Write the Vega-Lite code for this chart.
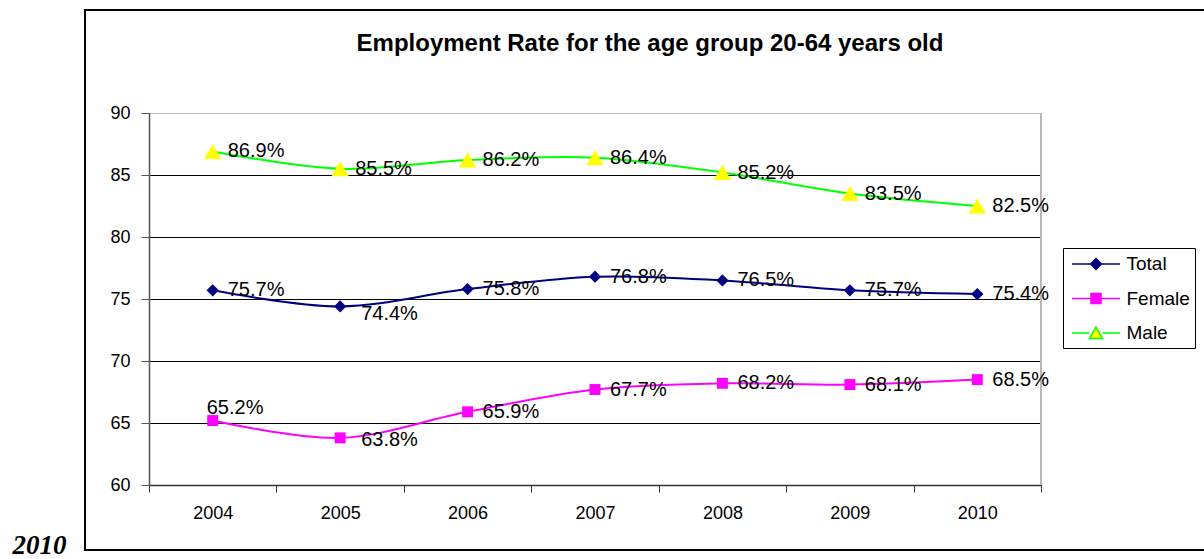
{
  "$schema": "https://vega.github.io/schema/vega-lite/v6.json",
  "width": 1130,
  "height": 540,
  "autosize": {"type": "none"},
  "padding": {"left": 85, "top": 10, "right": -11, "bottom": 9},
  "background": "white",
  "config": {
    "view": {"stroke": "black", "strokeWidth": 2, "fill": "white"},
    "font": "Liberation Sans",
    "axis": {"labelFont": "Liberation Sans", "labelColor": "black"},
    "legend": {
      "orient": "none",
      "legendX": 978,
      "legendY": 238,
      "strokeColor": "black",
      "fillColor": "white",
      "padding": 5,
      "rowPadding": 13.5,
      "symbolSize": 400,
      "symbolStrokeWidth": 1.5,
      "symbolOpacity": 1,
      "labelFont": "Liberation Sans",
      "labelFontSize": 19,
      "labelOffset": 36.5,
      "labelColor": "black"
    }
  },
  "title": {
    "text": "Employment Rate for the age group 20-64 years old",
    "font": "Liberation Sans",
    "fontSize": 24,
    "fontWeight": "bold",
    "color": "black",
    "anchor": "middle",
    "frame": "group",
    "baseline": "alphabetic",
    "offset": -65
  },
  "data": {
    "values": [
      {"year": "2004", "series": "Total", "value": 75.7},
      {"year": "2005", "series": "Total", "value": 74.4},
      {"year": "2006", "series": "Total", "value": 75.8},
      {"year": "2007", "series": "Total", "value": 76.8},
      {"year": "2008", "series": "Total", "value": 76.5},
      {"year": "2009", "series": "Total", "value": 75.7},
      {"year": "2010", "series": "Total", "value": 75.4},
      {"year": "2004", "series": "Female", "value": 65.2},
      {"year": "2005", "series": "Female", "value": 63.8},
      {"year": "2006", "series": "Female", "value": 65.9},
      {"year": "2007", "series": "Female", "value": 67.7},
      {"year": "2008", "series": "Female", "value": 68.2},
      {"year": "2009", "series": "Female", "value": 68.1},
      {"year": "2010", "series": "Female", "value": 68.5},
      {"year": "2004", "series": "Male", "value": 86.9},
      {"year": "2005", "series": "Male", "value": 85.5},
      {"year": "2006", "series": "Male", "value": 86.2},
      {"year": "2007", "series": "Male", "value": 86.4},
      {"year": "2008", "series": "Male", "value": 85.2},
      {"year": "2009", "series": "Male", "value": 83.5},
      {"year": "2010", "series": "Male", "value": 82.5}
    ]
  },
  "encoding": {
    "x": {
      "field": "year",
      "type": "ordinal",
      "scale": {"type": "band", "range": [64, 956], "paddingInner": 0, "paddingOuter": 0},
      "axis": {
        "title": "2010",
        "titleX": -73,
        "titleY": 68,
        "titleAnchor": "start",
        "titleAlign": "left",
        "titleBaseline": "alphabetic",
        "titleFont": "Liberation Serif",
        "titleFontSize": 27,
        "titleFontStyle": "italic",
        "titleFontWeight": "bold",
        "titleColor": "black",
        "offset": -65,
        "labelAngle": 0,
        "labelFontSize": 18,
        "labelPadding": 12,
        "tickBand": "extent",
        "tickSize": 7,
        "tickColor": "#333333",
        "domainColor": "#333333",
        "domainWidth": 1.5,
        "grid": false
      }
    },
    "y": {
      "field": "value",
      "type": "quantitative",
      "scale": {"domain": [60, 90], "range": [475, 103], "zero": false, "nice": false},
      "axis": {
        "title": null,
        "values": [60, 65, 70, 75, 80, 85, 90],
        "offset": -64,
        "grid": true,
        "gridColor": {"condition": {"test": "datum.value === 90", "value": "#b8b8b8"}, "value": "#000000"},
        "gridWidth": 1,
        "domainColor": "#555555",
        "domainWidth": 1.5,
        "tickColor": "#555555",
        "tickSize": 8,
        "labelPadding": 11,
        "labelFontSize": 18
      }
    }
  },
  "layer": [
    {
      "mark": {"type": "rule", "color": "#b8b8b8", "strokeWidth": 1.5},
      "encoding": {
        "x": {"datum": "2010", "type": "ordinal", "bandPosition": 1},
        "y": {"datum": 60, "type": "quantitative"},
        "y2": {"datum": 90}
      }
    },
    {
      "mark": {"type": "line", "interpolate": "catmull-rom", "strokeWidth": 2},
      "encoding": {
        "stroke": {
          "field": "series",
          "type": "nominal",
          "scale": {"domain": ["Total", "Female", "Male"], "range": ["#000080", "#FF00FF", "#00FF00"]},
          "legend": {"title": null}
        }
      }
    },
    {
      "transform": [{"filter": "datum.series === 'Total'"}],
      "mark": {"type": "point", "shape": "diamond", "size": 150, "filled": true, "opacity": 1, "strokeWidth": 0},
      "encoding": {
        "fill": {
          "field": "series",
          "type": "nominal",
          "scale": {"domain": ["Total", "Female", "Male"], "range": ["#000080", "#FF00FF", "#FFFF00"]},
          "legend": {"title": null}
        }
      }
    },
    {
      "transform": [{"filter": "datum.series === 'Female'"}],
      "mark": {"type": "point", "shape": "square", "size": 120, "filled": true, "opacity": 1, "strokeWidth": 0},
      "encoding": {
        "fill": {
          "field": "series",
          "type": "nominal",
          "scale": {"domain": ["Total", "Female", "Male"], "range": ["#000080", "#FF00FF", "#FFFF00"]},
          "legend": {"title": null}
        }
      }
    },
    {
      "transform": [{"filter": "datum.series === 'Male'"}],
      "mark": {"type": "point", "shape": "triangle-up", "size": 300, "filled": true, "opacity": 1, "strokeWidth": 0},
      "encoding": {
        "fill": {
          "field": "series",
          "type": "nominal",
          "scale": {"domain": ["Total", "Female", "Male"], "range": ["#000080", "#FF00FF", "#FFFF00"]},
          "legend": {"title": null}
        }
      }
    },
    {
      "mark": {"type": "point", "opacity": 0, "size": 400},
      "encoding": {
        "shape": {
          "field": "series",
          "type": "nominal",
          "scale": {
            "domain": ["Total", "Female", "Male"],
            "range": [
              "M-0.7,0H4.1M1.7,-0.55L2.25,0L1.7,0.55L1.15,0Z",
              "M-0.7,0H4.1M1.2,-0.5H2.2V0.5H1.2Z",
              "M-0.7,0H1.05M2.35,0H4.1M1.7,-0.6L2.35,0.55H1.05Z"
            ]
          },
          "legend": {"title": null}
        }
      }
    },
    {
      "transform": [{"filter": "!((datum.series === 'Female' && datum.year === '2004') || (datum.year === '2005' && datum.series !== 'Male'))"}],
      "mark": {"type": "text", "align": "left", "baseline": "middle", "dx": 15, "fontSize": 20, "font": "Liberation Sans", "color": "black", "text": {"expr": "format(datum.value, '.1f') + '%'"}}
    },
    {
      "transform": [{"filter": "datum.series === 'Female' && datum.year === '2004'"}],
      "mark": {"type": "text", "align": "left", "baseline": "middle", "dx": -6, "dy": -13, "fontSize": 20, "font": "Liberation Sans", "color": "black", "text": {"expr": "format(datum.value, '.1f') + '%'"}}
    },
    {
      "transform": [{"filter": "datum.series === 'Total' && datum.year === '2005'"}],
      "mark": {"type": "text", "align": "left", "baseline": "middle", "dx": 21, "dy": 8, "fontSize": 20, "font": "Liberation Sans", "color": "black", "text": {"expr": "format(datum.value, '.1f') + '%'"}}
    },
    {
      "transform": [{"filter": "datum.series === 'Female' && datum.year === '2005'"}],
      "mark": {"type": "text", "align": "left", "baseline": "middle", "dx": 21, "dy": 2, "fontSize": 20, "font": "Liberation Sans", "color": "black", "text": {"expr": "format(datum.value, '.1f') + '%'"}}
    }
  ]
}
